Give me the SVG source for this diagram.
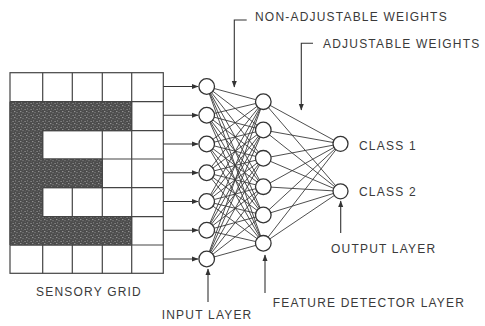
<svg xmlns="http://www.w3.org/2000/svg" width="485" height="326" viewBox="0 0 485 326">
<style>
.t{font-family:"Liberation Sans",Arial,sans-serif;font-size:12px;letter-spacing:1.2px;fill:#3a3a3a}
.g{stroke:#444;stroke-width:1.2;fill:none}
.w{stroke:#3a3a3a;stroke-width:0.9}
.a{stroke:#333;stroke-width:1.1;fill:none;marker-end:url(#ah)}
.n{fill:#fff;stroke:#333;stroke-width:1.3}
</style>
<defs>
<marker id="ah" markerUnits="userSpaceOnUse" markerWidth="7" markerHeight="6" refX="6" refY="3" orient="auto">
<path d="M0,0.5 L6.5,3 L0,5.5 Z" fill="#333"/>
</marker>
<pattern id="tex" width="6" height="6" patternUnits="userSpaceOnUse">
<rect width="6" height="6" fill="#4c4c4c"/>
<rect x="0.5" y="1" width="1.2" height="0.8" fill="#a8a8a8"/>
<rect x="3.2" y="0.2" width="0.9" height="1.3" fill="#8c8c8c"/>
<rect x="2" y="3.3" width="1.4" height="0.8" fill="#b0b0b0"/>
<rect x="4.6" y="4" width="0.8" height="1.2" fill="#999"/>
<rect x="0.8" y="4.8" width="0.8" height="0.8" fill="#777"/>
<rect x="4.8" y="2.2" width="0.9" height="0.7" fill="#6e6e6e"/>
</pattern>
</defs>
<rect width="485" height="326" fill="#fff"/>

<g id="sensory-grid">
<rect x="10" y="72.7" width="153.3" height="200.6" class="g"/>
<g class="g">
<path d="M42.7,72.7V273.3 M72.3,72.7V130.7 M72.3,159V273.3 M102.3,72.7V273.3 M131.7,72.7V273.3"/>
<path d="M10,101.7H163.3 M10,130.7H163.3 M10,159H163.3 M10,187.7H163.3 M10,216.7H163.3 M10,245H163.3"/>
</g>
<path d="M10,101.7H131.7V130.7H42.7V159H102.3V187.7H42.7V216.7H131.7V245H10Z" fill="url(#tex)" stroke="#444" stroke-width="1"/>
</g>

<g id="connectors">
<g class="a">
<path d="M163.3,86.5H198"/>
<path d="M163.3,115.25H198"/>
<path d="M163.3,144H198"/>
<path d="M163.3,172.75H198"/>
<path d="M163.3,201.5H198"/>
<path d="M163.3,230.25H198"/>
<path d="M163.3,259H198"/>
<path d="M246.7,20H234.3V87"/>
<path d="M313,43.3H301.3V110"/>
<path d="M208,302V269"/>
<path d="M265,293V255"/>
<path d="M340.7,233V201"/>
</g>
<g class="w" id="weights-in">
<path d="M206.7,86.5L263.3,101.7M206.7,86.5L263.3,130M206.7,86.5L263.3,158.3M206.7,86.5L263.3,186.7M206.7,86.5L263.3,215M206.7,86.5L263.3,243.3"/>
<path d="M206.7,115.25L263.3,101.7M206.7,115.25L263.3,130M206.7,115.25L263.3,158.3M206.7,115.25L263.3,186.7M206.7,115.25L263.3,215M206.7,115.25L263.3,243.3"/>
<path d="M206.7,144L263.3,101.7M206.7,144L263.3,130M206.7,144L263.3,158.3M206.7,144L263.3,186.7M206.7,144L263.3,215M206.7,144L263.3,243.3"/>
<path d="M206.7,172.75L263.3,101.7M206.7,172.75L263.3,130M206.7,172.75L263.3,158.3M206.7,172.75L263.3,186.7M206.7,172.75L263.3,215M206.7,172.75L263.3,243.3"/>
<path d="M206.7,201.5L263.3,101.7M206.7,201.5L263.3,130M206.7,201.5L263.3,158.3M206.7,201.5L263.3,186.7M206.7,201.5L263.3,215M206.7,201.5L263.3,243.3"/>
<path d="M206.7,230.25L263.3,101.7M206.7,230.25L263.3,130M206.7,230.25L263.3,158.3M206.7,230.25L263.3,186.7M206.7,230.25L263.3,215M206.7,230.25L263.3,243.3"/>
<path d="M206.7,259L263.3,101.7M206.7,259L263.3,130M206.7,259L263.3,158.3M206.7,259L263.3,186.7M206.7,259L263.3,215M206.7,259L263.3,243.3"/>
</g>
<g class="w" id="weights-out">
<path d="M263.3,101.7L340.5,143.8M263.3,130L340.5,143.8M263.3,158.3L340.5,143.8M263.3,186.7L340.5,143.8M263.3,215L340.5,143.8M263.3,243.3L340.5,143.8"/>
<path d="M263.3,101.7L340.5,191.3M263.3,130L340.5,191.3M263.3,158.3L340.5,191.3M263.3,186.7L340.5,191.3M263.3,215L340.5,191.3M263.3,243.3L340.5,191.3"/>
</g>
</g>

<g id="input-layer">
<circle class="n" cx="206.7" cy="86.5" r="7.8"/>
<circle class="n" cx="206.7" cy="115.25" r="7.8"/>
<circle class="n" cx="206.7" cy="144" r="7.8"/>
<circle class="n" cx="206.7" cy="172.75" r="7.8"/>
<circle class="n" cx="206.7" cy="201.5" r="7.8"/>
<circle class="n" cx="206.7" cy="230.25" r="7.8"/>
<circle class="n" cx="206.7" cy="259" r="7.8"/>
</g>
<g id="feature-layer">
<circle class="n" cx="263.3" cy="101.7" r="7.8"/>
<circle class="n" cx="263.3" cy="130" r="7.8"/>
<circle class="n" cx="263.3" cy="158.3" r="7.8"/>
<circle class="n" cx="263.3" cy="186.7" r="7.8"/>
<circle class="n" cx="263.3" cy="215" r="7.8"/>
<circle class="n" cx="263.3" cy="243.3" r="7.8"/>
</g>
<g id="output-layer">
<circle class="n" cx="340.5" cy="143.8" r="7.5"/>
<circle class="n" cx="340.5" cy="191.3" r="7.5"/>
</g>

<g id="labels">
<text class="t" x="255" y="20.7">NON-ADJUSTABLE WEIGHTS</text>
<text class="t" x="323" y="47.7">ADJUSTABLE WEIGHTS</text>
<text class="t" x="359" y="149.5">CLASS 1</text>
<text class="t" x="359" y="196">CLASS 2</text>
<text class="t" x="331" y="253.3">OUTPUT LAYER</text>
<text class="t" x="272.7" y="307.3">FEATURE DETECTOR LAYER</text>
<text class="t" x="36" y="296">SENSORY GRID</text>
<text class="t" x="161.7" y="319.3">INPUT LAYER</text>
</g>
</svg>
